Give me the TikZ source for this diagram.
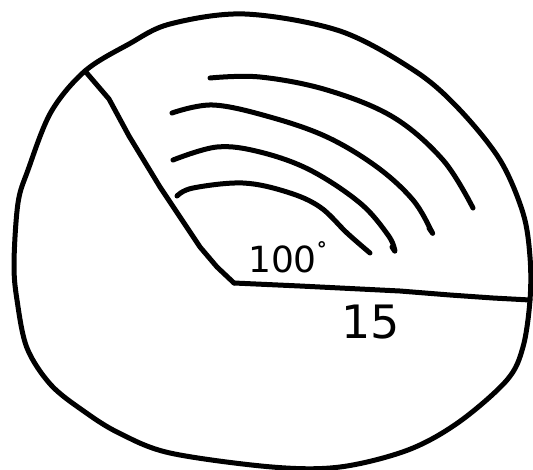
\documentclass[tikz,border=0pt]{standalone}
\usepackage{fontspec}
\setmainfont{DejaVu Sans}
\begin{document}
\begin{tikzpicture}[x=1pt,y=-1pt,
  stroke/.style={line width=5pt,line cap=round,line join=round},
  lbl/.style={inner sep=0pt,font=\fontsize{36}{38}\selectfont}]
\useasboundingbox (0,0) rectangle (533,469);
% outer closed curve
\draw[stroke] plot[smooth cycle,tension=0.55] coordinates {
 (245,14) (340,31) (415,71) (459,109) (500,160) (523,213) (530,257) (530,300)
 (523,347) (507,380) (459,422) (408,450) (340,467) (272,467) (170,453)
 (119,433) (85,412) (51,385) (27,348) (17,300) (14,263) (18,203) (28,170)
 (51,112) (85,71) (129,44) (170,24)};
% sector radii
\coordinate (O) at (234,283);
\coordinate (A) at (85,71);
\coordinate (B) at (530,300);
\draw[stroke] (A) -- (109,99) -- (129,136) -- (160,187) -- (200,247) -- (217,267) -- (O);
\draw[stroke] (O) -- (300,286) -- (400,291) -- (450,295) -- (493,298) -- (B);
% arcs
\draw[stroke] plot[smooth,tension=0.6] coordinates {(177,196) (193,188) (243,183) (287,192) (320,207) (347,233) (370,253)};
\draw[stroke] plot[smooth,tension=0.6] coordinates {(173,160) (217,147) (260,152) (310,170) (360,203) (388,235) (395,251) (392,247)};
\draw[stroke] plot[smooth,tension=0.6] coordinates {(172,113) (213,105) (270,117) (327,137) (377,167) (413,200) (432,232) (429,228)};
\draw[stroke] plot[smooth,tension=0.6] coordinates {(210,78) (260,77) (327,90) (393,117) (443,160) (473,208)};
% labels
\node[lbl,anchor=west] (ang) at (248,257) {100\raisebox{16pt}{\fontsize{20}{22}\bfseries °}};
\node[lbl,anchor=center,font=\fontsize{46}{48}\selectfont] (len) at (371,322) {15};
\end{tikzpicture}
\end{document}
